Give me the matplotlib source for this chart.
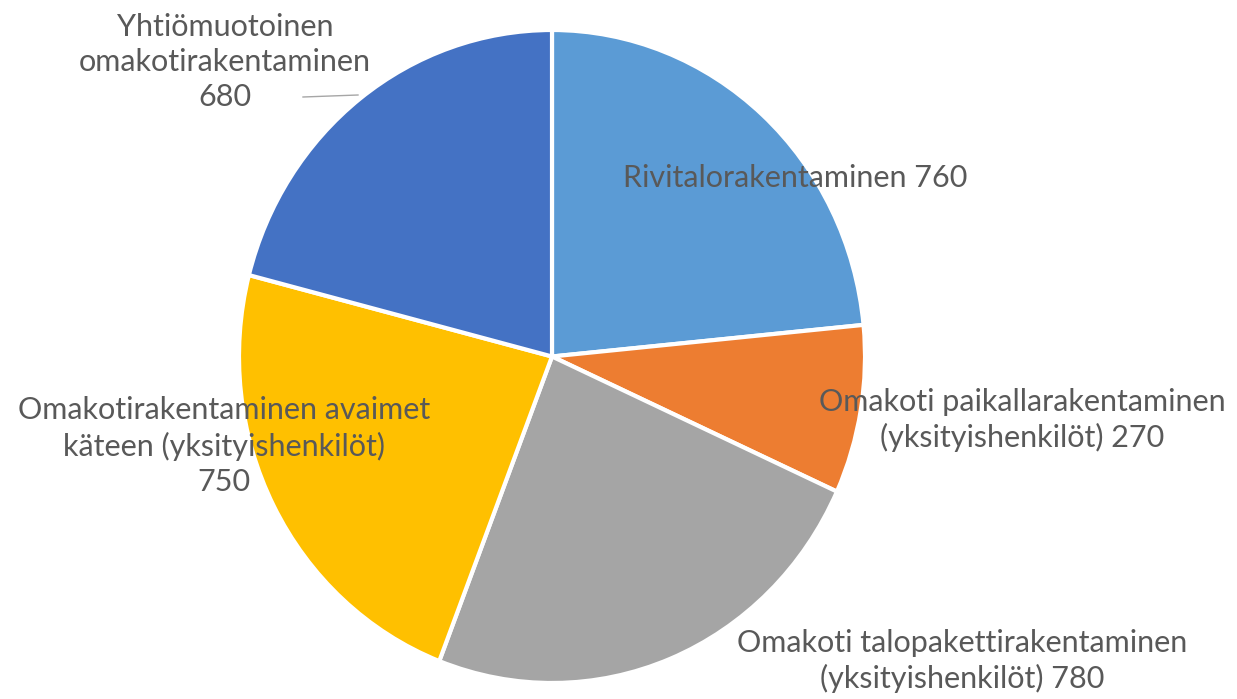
import matplotlib
matplotlib.use("Agg")
import matplotlib.pyplot as plt

# data
labels = ["Rivitalorakentaminen 760",
          "Omakoti paikallarakentaminen\n(yksityishenkilöt) 270",
          "Omakoti talopakettirakentaminen\n(yksityishenkilöt) 780",
          "Omakotirakentaminen avaimet\nkäteen (yksityishenkilöt)\n750",
          "Yhtiömuotoinen\nomakotirakentaminen\n680"]
values = [760, 270, 780, 750, 680]
colors = ["#5B9BD5", "#ED7D31", "#A5A5A5", "#FFC000", "#4472C4"]

# label positions in pixels (x, y from top)
label_pos = [(795, 178), (1022, 420), (962, 661), (224, 446), (225, 62)]

W, H = 1237, 699
plt.rcParams['font.family'] = ['Lato', 'DejaVu Sans']

fig = plt.figure(figsize=(W / 100, H / 100), dpi=100)

# pie box in pixels: left, top, right, bottom (slightly stretched vertically)
left, top, right, bottom = 239, 30, 865, 683
pax = fig.add_axes([left / W, (H - bottom) / H, (right - left) / W, (bottom - top) / H])
pax.pie(values, colors=colors, startangle=90, counterclock=False, radius=1,
        wedgeprops=dict(edgecolor="white", linewidth=3))
pax.set_aspect("auto")
pax.set_xlim(-1, 1)
pax.set_ylim(-1, 1)
pax.axis("off")

# text layer in pixel coords
ax = fig.add_axes([0, 0, 1, 1])
ax.set_xlim(0, W)
ax.set_ylim(H, 0)
ax.axis("off")
ax.patch.set_alpha(0)

for lab, (x, y) in zip(labels, label_pos):
    ax.text(x, y, lab, ha="center", va="center", fontsize=22,
            color="#595959", linespacing=1.3)

# leader line for the last label
ax.plot([303, 358], [97, 95], color="#A6A6A6", linewidth=1)

fig.savefig("out.png", dpi=100)
